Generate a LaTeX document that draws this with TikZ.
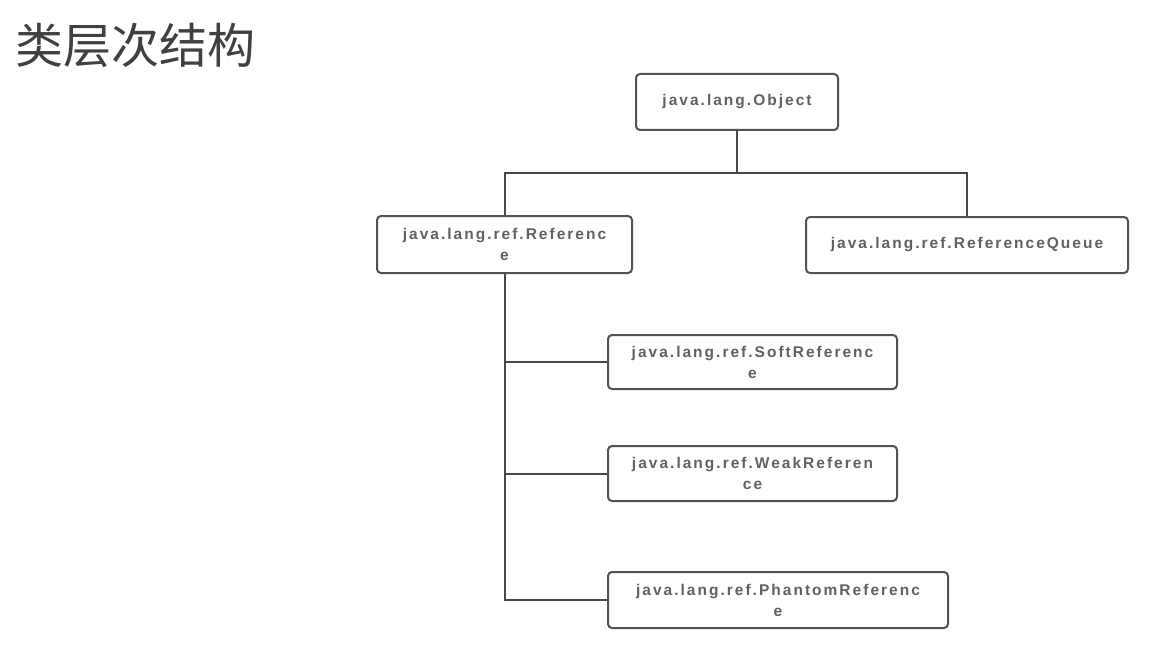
\documentclass[tikz,border=0pt]{standalone}
\usepackage{fontspec}
\setmainfont{Liberation Sans}
\newfontfamily\cjkfont{Noto Sans CJK SC}
\newfontfamily\boxfont[LetterSpace=13]{Liberation Sans Bold}
\begin{document}
\begin{tikzpicture}[x=1pt,y=-1pt,
  cls/.style={draw=black!68, line width=2pt, rounded corners=4pt, fill=white,
    inner sep=0pt, align=center, text=black!62, font=\boxfont\fontsize{15.5}{21}\selectfont},
  link/.style={draw=black!72, line width=2pt}]
\useasboundingbox (0,0) rectangle (1170,666);
\fill[white] (0,0) rectangle (1170,666);
\node[anchor=west, text=black!75, font=\cjkfont\fontsize{48}{52}\selectfont] (title) at (12,45) {类层次结构};
\node[cls, minimum width=202pt, minimum height=56pt] (obj) at (737,102) {java.lang.Object};
\node[cls, minimum width=255pt, minimum height=57pt] (ref) at (504.5,244.5) {java.lang.ref.Referenc\\e};
\node[cls, minimum width=322pt, minimum height=56pt] (queue) at (967,245) {java.lang.ref.ReferenceQueue};
\node[cls, minimum width=289pt, minimum height=54pt] (soft) at (752.5,362) {java.lang.ref.SoftReferenc\\e};
\node[cls, minimum width=289pt, minimum height=55pt] (weak) at (752.5,473.5) {java.lang.ref.WeakReferen\\ce};
\node[cls, minimum width=340pt, minimum height=56pt] (phantom) at (778,600) {java.lang.ref.PhantomReferenc\\e};
\coordinate (j) at (737,173);
\draw[link] (obj.south) -- (j);
\draw[link] (ref.north) |- (j) -| (queue.north);
\draw[link] (ref.south) |- (phantom.west);
\draw[link] (ref.south |- soft.west) -- (soft.west);
\draw[link] (ref.south |- weak.west) -- (weak.west);
\end{tikzpicture}
\end{document}
